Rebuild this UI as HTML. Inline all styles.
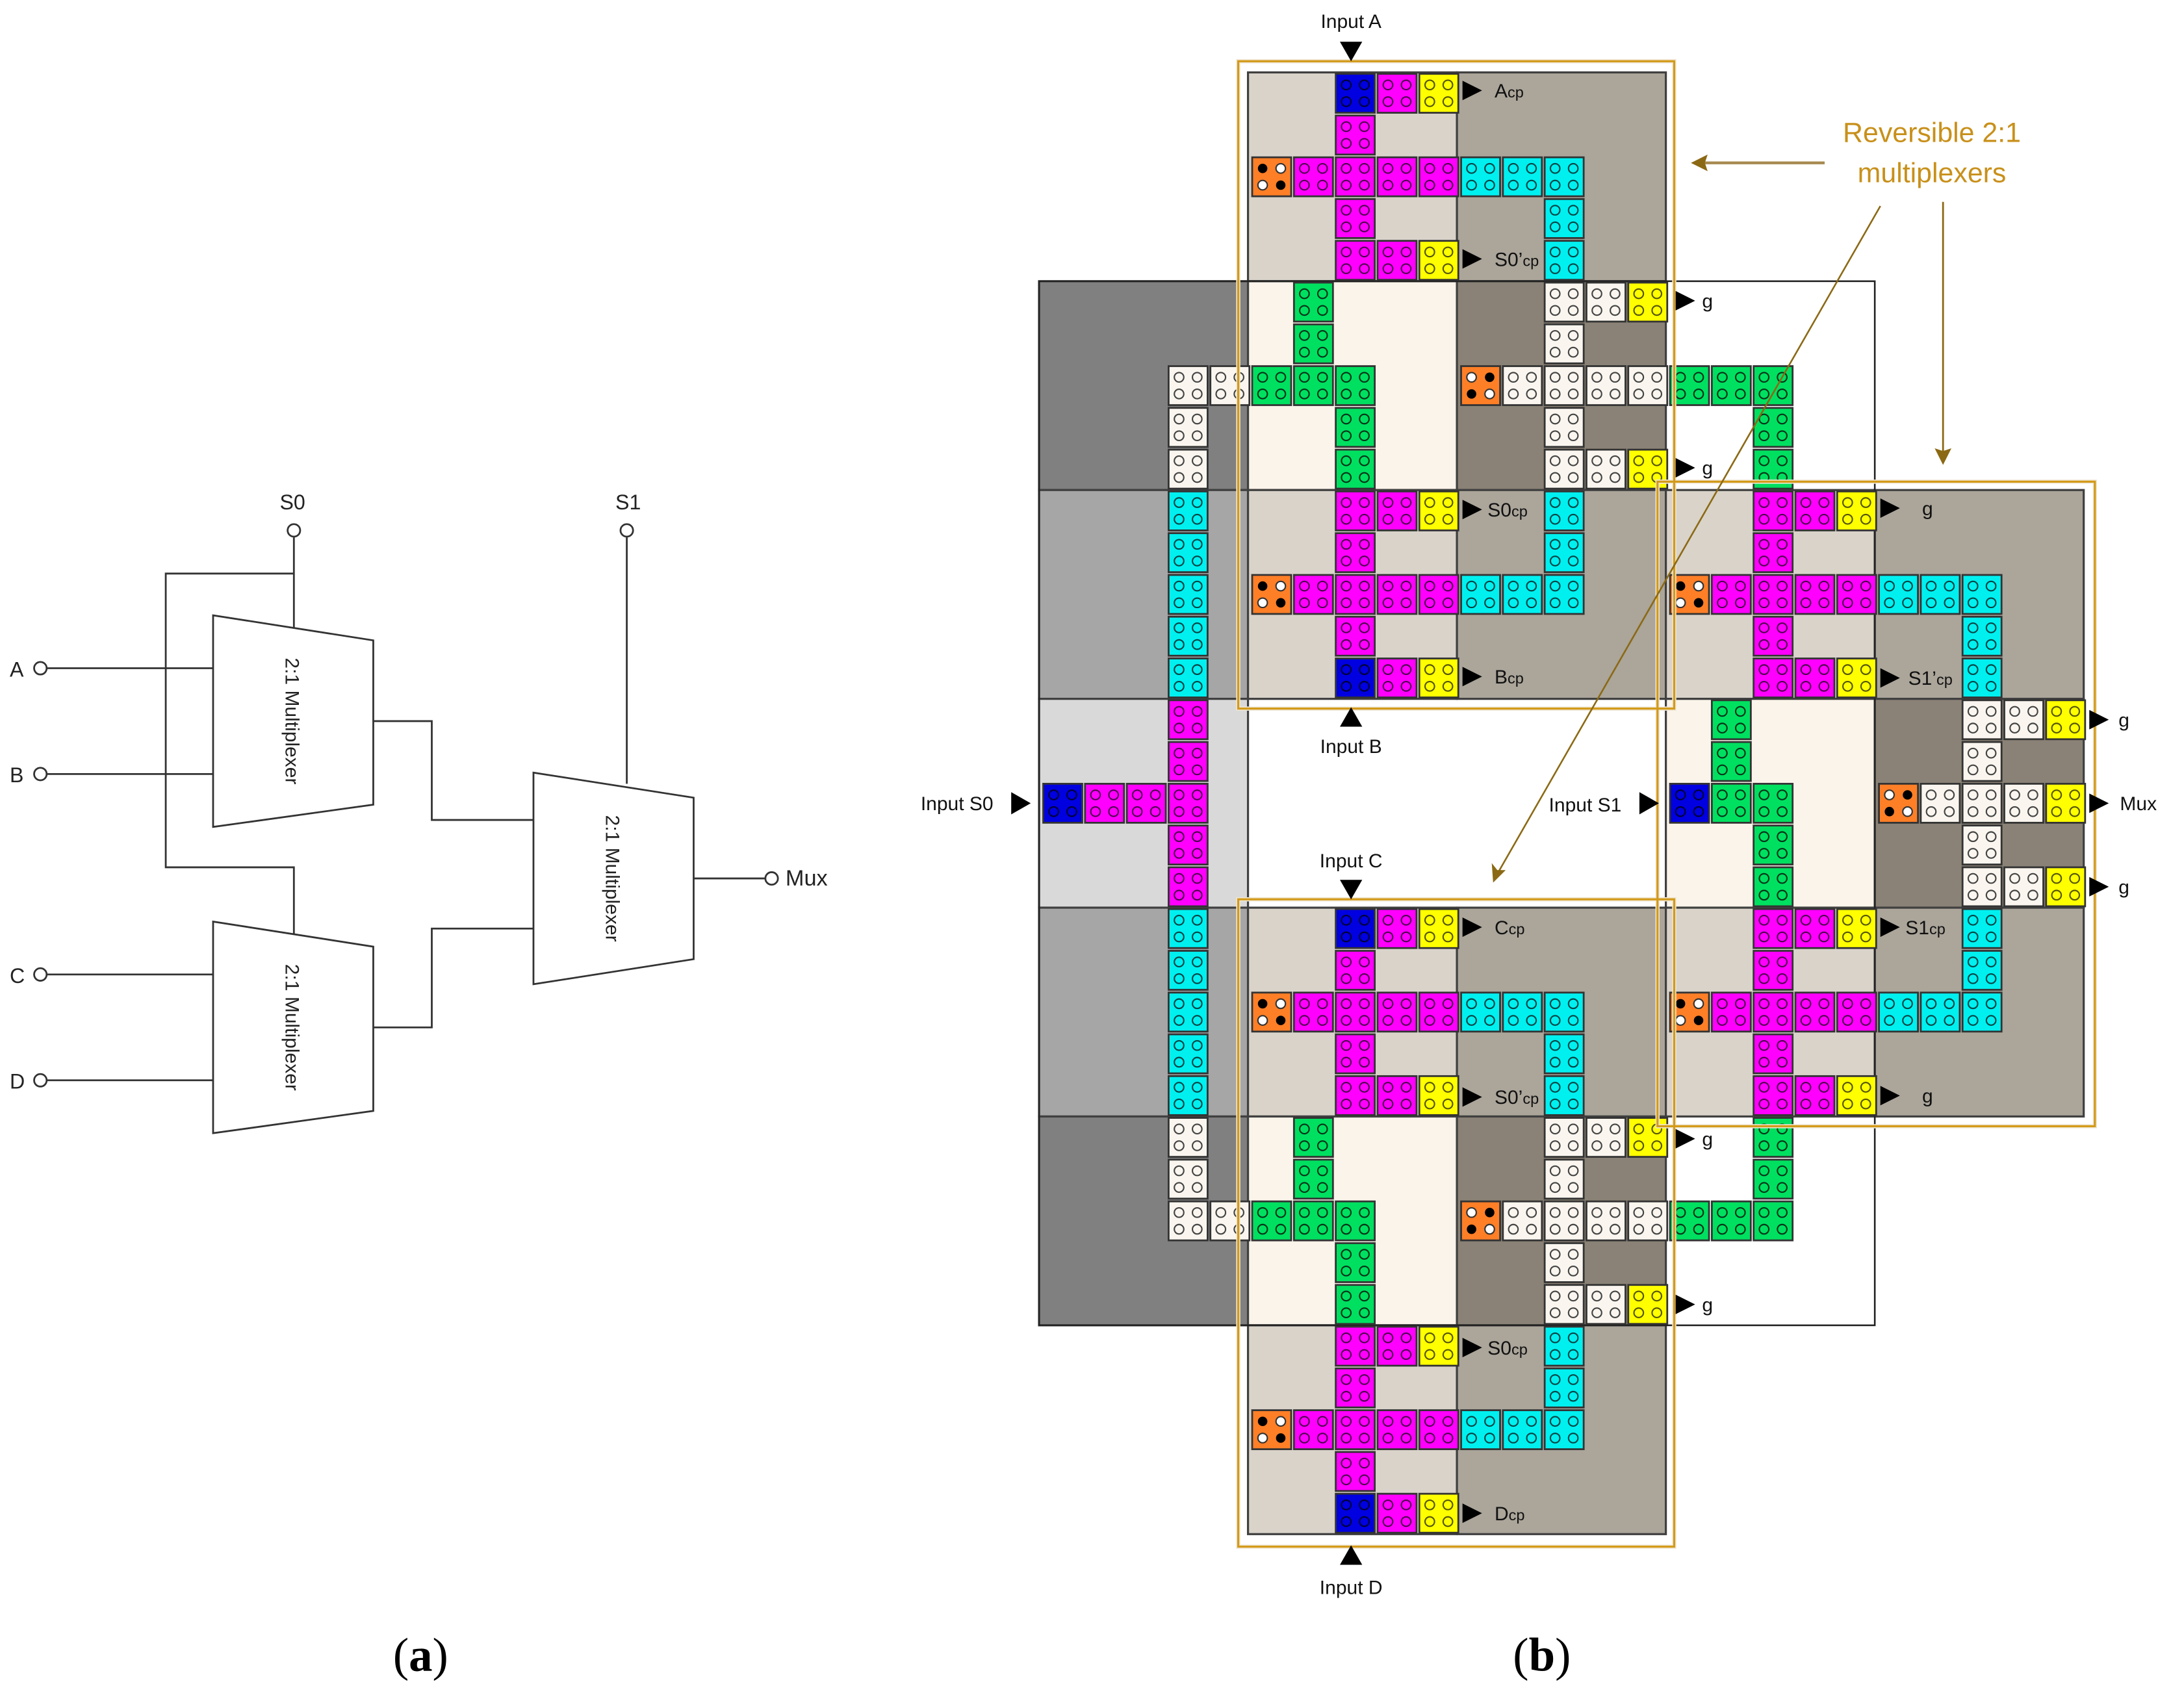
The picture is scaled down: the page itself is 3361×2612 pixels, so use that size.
<!DOCTYPE html>
<html><head><meta charset="utf-8"><style>
html,body{margin:0;padding:0;background:#fff;}
svg{display:block;}
text{font-family:"Liberation Sans",sans-serif;}
</style></head><body>
<svg xmlns="http://www.w3.org/2000/svg" xmlns:xlink="http://www.w3.org/1999/xlink" width="3361" height="2612" viewBox="0 0 1568 1219" preserveAspectRatio="none">
<defs>
<g id="holes"><circle cx="8.5" cy="9" r="3.4"/><circle cx="21.5" cy="9" r="3.4"/><circle cx="8.5" cy="21" r="3.4"/><circle cx="21.5" cy="21" r="3.4"/></g>
<g id="M"><rect x="1" y="1" width="28" height="28" fill="#ff00ff" stroke="#333" stroke-width="1.3"/><use xlink:href="#holes" fill="none" stroke="#500050" stroke-width="1"/></g>
<g id="Y"><rect x="1" y="1" width="28" height="28" fill="#ffff00" stroke="#333" stroke-width="1.3"/><use xlink:href="#holes" fill="none" stroke="#555500" stroke-width="1"/></g>
<g id="C"><rect x="1" y="1" width="28" height="28" fill="#00f0f0" stroke="#333" stroke-width="1.3"/><use xlink:href="#holes" fill="none" stroke="#004444" stroke-width="1"/></g>
<g id="B"><rect x="1" y="1" width="28" height="28" fill="#0000e0" stroke="#333" stroke-width="1.3"/><use xlink:href="#holes" fill="none" stroke="#000033" stroke-width="1"/></g>
<g id="G"><rect x="1" y="1" width="28" height="28" fill="#00e060" stroke="#333" stroke-width="1.3"/><use xlink:href="#holes" fill="none" stroke="#003318" stroke-width="1"/></g>
<g id="W"><rect x="1" y="1" width="28" height="28" fill="#faf6ef" stroke="#333" stroke-width="1.3"/><use xlink:href="#holes" fill="none" stroke="#444" stroke-width="1"/></g>
<g id="OA"><rect x="1" y="1" width="28" height="28" fill="#ff7f27" stroke="#333" stroke-width="1.3"/><circle cx="8.5" cy="9" r="3.4" fill="#000"/><circle cx="21.5" cy="9" r="3.4" fill="#fff" stroke="#333"/><circle cx="8.5" cy="21" r="3.4" fill="#fff" stroke="#333"/><circle cx="21.5" cy="21" r="3.4" fill="#000"/></g>
<g id="OB"><rect x="1" y="1" width="28" height="28" fill="#ff7f27" stroke="#333" stroke-width="1.3"/><circle cx="8.5" cy="9" r="3.4" fill="#fff" stroke="#333"/><circle cx="21.5" cy="9" r="3.4" fill="#000"/><circle cx="8.5" cy="21" r="3.4" fill="#000"/><circle cx="21.5" cy="21" r="3.4" fill="#fff" stroke="#333"/></g>
<path id="tr" d="M0,-7 L14,0 L0,7 Z" fill="#000"/>
</defs>

<g stroke="#333" stroke-width="1.3" fill="none">
<polygon points="153,442 268,460 268,578 153,594" fill="#fff"/>
<polygon points="153,662 268,680 268,798 153,814" fill="#fff"/>
<polygon points="383,555 498,573 498,689 383,707" fill="#fff"/>
<polyline points="211,386 211,451"/>
<polyline points="211,412 119,412 119,623 211,623 211,671"/>
<line x1="34" y1="480" x2="153" y2="480"/>
<line x1="34" y1="556" x2="153" y2="556"/>
<line x1="34" y1="700" x2="153" y2="700"/>
<line x1="34" y1="776" x2="153" y2="776"/>
<polyline points="268,518 310,518 310,589 383,589"/>
<polyline points="268,738 310,738 310,667 383,667"/>
<line x1="450" y1="386" x2="450" y2="563"/>
<line x1="498" y1="631" x2="549" y2="631"/>
<circle cx="211" cy="381" r="4.5" fill="#fff"/>
<circle cx="450" cy="381" r="4.5" fill="#fff"/>
<circle cx="29" cy="480" r="4.5" fill="#fff"/>
<circle cx="29" cy="556" r="4.5" fill="#fff"/>
<circle cx="29" cy="700" r="4.5" fill="#fff"/>
<circle cx="29" cy="776" r="4.5" fill="#fff"/>
<circle cx="554" cy="631" r="4.5" fill="#fff"/>
</g>
<g font-size="15" fill="#222">
<text x="210" y="366" text-anchor="middle">S0</text>
<text x="451" y="366" text-anchor="middle">S1</text>
<text x="7" y="486">A</text>
<text x="7" y="562">B</text>
<text x="7" y="706">C</text>
<text x="7" y="782">D</text>
<text x="564" y="636" font-size="16">Mux</text>
<text transform="translate(205,518) rotate(90)" text-anchor="middle" font-size="14">2:1 Multiplexer</text>
<text transform="translate(205,738) rotate(90)" text-anchor="middle" font-size="14">2:1 Multiplexer</text>
<text transform="translate(435,631) rotate(90)" text-anchor="middle" font-size="14">2:1 Multiplexer</text>
</g>
<text x="302" y="1200" style="font-family:'Liberation Serif',serif" font-size="34" text-anchor="middle" fill="#000">(<tspan font-weight="bold">a</tspan>)</text>
<text x="1107" y="1200" style="font-family:'Liberation Serif',serif" font-size="34" text-anchor="middle" fill="#000">(<tspan font-weight="bold">b</tspan>)</text>

<g stroke="#404040" stroke-width="1.5">
<rect x="896" y="52" width="150" height="150" fill="#d9d3ca"/>
<rect x="1046" y="52" width="150" height="150" fill="#aba59a"/>
<rect x="746" y="202" width="150" height="150" fill="#808080"/>
<rect x="896" y="202" width="150" height="150" fill="#faf4ea"/>
<rect x="1046" y="202" width="150" height="150" fill="#8a8276"/>
<rect x="746" y="352" width="150" height="150" fill="#a6a6a6"/>
<rect x="896" y="352" width="150" height="150" fill="#d9d3ca"/>
<rect x="1046" y="352" width="150" height="150" fill="#aba59a"/>
<rect x="1196" y="352" width="150" height="150" fill="#d9d3ca"/>
<rect x="1346" y="352" width="150" height="150" fill="#aba59a"/>
<rect x="746" y="502" width="150" height="150" fill="#d9d9d9"/>
<rect x="1196" y="502" width="150" height="150" fill="#faf4ea"/>
<rect x="1346" y="502" width="150" height="150" fill="#8a8276"/>
<rect x="746" y="652" width="150" height="150" fill="#a6a6a6"/>
<rect x="896" y="652" width="150" height="150" fill="#d9d3ca"/>
<rect x="1046" y="652" width="150" height="150" fill="#aba59a"/>
<rect x="1196" y="652" width="150" height="150" fill="#d9d3ca"/>
<rect x="1346" y="652" width="150" height="150" fill="#aba59a"/>
<rect x="746" y="802" width="150" height="150" fill="#808080"/>
<rect x="896" y="802" width="150" height="150" fill="#faf4ea"/>
<rect x="1046" y="802" width="150" height="150" fill="#8a8276"/>
<rect x="896" y="952" width="150" height="150" fill="#d9d3ca"/>
<rect x="1046" y="952" width="150" height="150" fill="#aba59a"/>
</g>
<rect x="746" y="202" width="600" height="750" fill="none" stroke="#222" stroke-width="1.2"/>

<g>
<use xlink:href="#B" x="958" y="52"/><use xlink:href="#M" x="988" y="52"/><use xlink:href="#Y" x="1018" y="52"/>
<use xlink:href="#M" x="958" y="82"/>
<use xlink:href="#OA" x="898" y="112"/><use xlink:href="#M" x="928" y="112"/><use xlink:href="#M" x="958" y="112"/><use xlink:href="#M" x="988" y="112"/><use xlink:href="#M" x="1018" y="112"/><use xlink:href="#C" x="1048" y="112"/><use xlink:href="#C" x="1078" y="112"/><use xlink:href="#C" x="1108" y="112"/>
<use xlink:href="#M" x="958" y="142"/><use xlink:href="#C" x="1108" y="142"/>
<use xlink:href="#M" x="958" y="172"/><use xlink:href="#M" x="988" y="172"/><use xlink:href="#Y" x="1018" y="172"/><use xlink:href="#C" x="1108" y="172"/>
<use xlink:href="#G" x="928" y="202"/><use xlink:href="#W" x="1108" y="202"/><use xlink:href="#W" x="1138" y="202"/><use xlink:href="#Y" x="1168" y="202"/>
<use xlink:href="#G" x="928" y="232"/><use xlink:href="#W" x="1108" y="232"/>
<use xlink:href="#W" x="838" y="262"/><use xlink:href="#W" x="868" y="262"/><use xlink:href="#G" x="898" y="262"/><use xlink:href="#G" x="928" y="262"/><use xlink:href="#G" x="958" y="262"/><use xlink:href="#OB" x="1048" y="262"/><use xlink:href="#W" x="1078" y="262"/><use xlink:href="#W" x="1108" y="262"/><use xlink:href="#W" x="1138" y="262"/><use xlink:href="#W" x="1168" y="262"/><use xlink:href="#G" x="1198" y="262"/><use xlink:href="#G" x="1228" y="262"/><use xlink:href="#G" x="1258" y="262"/>
<use xlink:href="#W" x="838" y="292"/><use xlink:href="#G" x="958" y="292"/><use xlink:href="#W" x="1108" y="292"/><use xlink:href="#G" x="1258" y="292"/>
<use xlink:href="#W" x="838" y="322"/><use xlink:href="#G" x="958" y="322"/><use xlink:href="#W" x="1108" y="322"/><use xlink:href="#W" x="1138" y="322"/><use xlink:href="#Y" x="1168" y="322"/><use xlink:href="#G" x="1258" y="322"/>
<use xlink:href="#C" x="838" y="352"/><use xlink:href="#M" x="958" y="352"/><use xlink:href="#M" x="988" y="352"/><use xlink:href="#Y" x="1018" y="352"/><use xlink:href="#C" x="1108" y="352"/>
<use xlink:href="#C" x="838" y="382"/><use xlink:href="#M" x="958" y="382"/><use xlink:href="#C" x="1108" y="382"/>
<use xlink:href="#C" x="838" y="412"/><use xlink:href="#OA" x="898" y="412"/><use xlink:href="#M" x="928" y="412"/><use xlink:href="#M" x="958" y="412"/><use xlink:href="#M" x="988" y="412"/><use xlink:href="#M" x="1018" y="412"/><use xlink:href="#C" x="1048" y="412"/><use xlink:href="#C" x="1078" y="412"/><use xlink:href="#C" x="1108" y="412"/>
<use xlink:href="#C" x="838" y="442"/><use xlink:href="#M" x="958" y="442"/>
<use xlink:href="#C" x="838" y="472"/><use xlink:href="#B" x="958" y="472"/><use xlink:href="#M" x="988" y="472"/><use xlink:href="#Y" x="1018" y="472"/>
<use xlink:href="#M" x="1258" y="352"/><use xlink:href="#M" x="1288" y="352"/><use xlink:href="#Y" x="1318" y="352"/>
<use xlink:href="#M" x="1258" y="382"/>
<use xlink:href="#OA" x="1198" y="412"/><use xlink:href="#M" x="1228" y="412"/><use xlink:href="#M" x="1258" y="412"/><use xlink:href="#M" x="1288" y="412"/><use xlink:href="#M" x="1318" y="412"/><use xlink:href="#C" x="1348" y="412"/><use xlink:href="#C" x="1378" y="412"/><use xlink:href="#C" x="1408" y="412"/>
<use xlink:href="#M" x="1258" y="442"/><use xlink:href="#C" x="1408" y="442"/>
<use xlink:href="#M" x="1258" y="472"/><use xlink:href="#M" x="1288" y="472"/><use xlink:href="#Y" x="1318" y="472"/><use xlink:href="#C" x="1408" y="472"/>
<use xlink:href="#M" x="838" y="502"/><use xlink:href="#M" x="838" y="532"/><use xlink:href="#M" x="838" y="562"/><use xlink:href="#M" x="838" y="592"/><use xlink:href="#M" x="838" y="622"/>
<use xlink:href="#B" x="748" y="562"/><use xlink:href="#M" x="778" y="562"/><use xlink:href="#M" x="808" y="562"/>
<use xlink:href="#G" x="1228" y="502"/><use xlink:href="#G" x="1228" y="532"/><use xlink:href="#B" x="1198" y="562"/><use xlink:href="#G" x="1228" y="562"/><use xlink:href="#G" x="1258" y="562"/><use xlink:href="#G" x="1258" y="592"/><use xlink:href="#G" x="1258" y="622"/>
<use xlink:href="#W" x="1408" y="502"/><use xlink:href="#W" x="1438" y="502"/><use xlink:href="#Y" x="1468" y="502"/>
<use xlink:href="#W" x="1408" y="532"/>
<use xlink:href="#OB" x="1348" y="562"/><use xlink:href="#W" x="1378" y="562"/><use xlink:href="#W" x="1408" y="562"/><use xlink:href="#W" x="1438" y="562"/><use xlink:href="#Y" x="1468" y="562"/>
<use xlink:href="#W" x="1408" y="592"/>
<use xlink:href="#W" x="1408" y="622"/><use xlink:href="#W" x="1438" y="622"/><use xlink:href="#Y" x="1468" y="622"/>
<use xlink:href="#C" x="838" y="652"/><use xlink:href="#C" x="838" y="682"/><use xlink:href="#C" x="838" y="712"/><use xlink:href="#C" x="838" y="742"/><use xlink:href="#C" x="838" y="772"/>
<use xlink:href="#B" x="958" y="652"/><use xlink:href="#M" x="988" y="652"/><use xlink:href="#Y" x="1018" y="652"/>
<use xlink:href="#M" x="958" y="682"/>
<use xlink:href="#OA" x="898" y="712"/><use xlink:href="#M" x="928" y="712"/><use xlink:href="#M" x="958" y="712"/><use xlink:href="#M" x="988" y="712"/><use xlink:href="#M" x="1018" y="712"/><use xlink:href="#C" x="1048" y="712"/><use xlink:href="#C" x="1078" y="712"/><use xlink:href="#C" x="1108" y="712"/>
<use xlink:href="#M" x="958" y="742"/><use xlink:href="#C" x="1108" y="742"/>
<use xlink:href="#M" x="958" y="772"/><use xlink:href="#M" x="988" y="772"/><use xlink:href="#Y" x="1018" y="772"/><use xlink:href="#C" x="1108" y="772"/>
<use xlink:href="#M" x="1258" y="652"/><use xlink:href="#M" x="1288" y="652"/><use xlink:href="#Y" x="1318" y="652"/><use xlink:href="#C" x="1408" y="652"/>
<use xlink:href="#M" x="1258" y="682"/><use xlink:href="#C" x="1408" y="682"/>
<use xlink:href="#OA" x="1198" y="712"/><use xlink:href="#M" x="1228" y="712"/><use xlink:href="#M" x="1258" y="712"/><use xlink:href="#M" x="1288" y="712"/><use xlink:href="#M" x="1318" y="712"/><use xlink:href="#C" x="1348" y="712"/><use xlink:href="#C" x="1378" y="712"/><use xlink:href="#C" x="1408" y="712"/>
<use xlink:href="#M" x="1258" y="742"/>
<use xlink:href="#M" x="1258" y="772"/><use xlink:href="#M" x="1288" y="772"/><use xlink:href="#Y" x="1318" y="772"/>
<use xlink:href="#W" x="838" y="802"/><use xlink:href="#G" x="928" y="802"/><use xlink:href="#W" x="1108" y="802"/><use xlink:href="#W" x="1138" y="802"/><use xlink:href="#Y" x="1168" y="802"/><use xlink:href="#G" x="1258" y="802"/>
<use xlink:href="#W" x="838" y="832"/><use xlink:href="#G" x="928" y="832"/><use xlink:href="#W" x="1108" y="832"/><use xlink:href="#G" x="1258" y="832"/>
<use xlink:href="#W" x="838" y="862"/><use xlink:href="#W" x="868" y="862"/><use xlink:href="#G" x="898" y="862"/><use xlink:href="#G" x="928" y="862"/><use xlink:href="#G" x="958" y="862"/><use xlink:href="#OB" x="1048" y="862"/><use xlink:href="#W" x="1078" y="862"/><use xlink:href="#W" x="1108" y="862"/><use xlink:href="#W" x="1138" y="862"/><use xlink:href="#W" x="1168" y="862"/><use xlink:href="#G" x="1198" y="862"/><use xlink:href="#G" x="1228" y="862"/><use xlink:href="#G" x="1258" y="862"/>
<use xlink:href="#G" x="958" y="892"/><use xlink:href="#W" x="1108" y="892"/>
<use xlink:href="#G" x="958" y="922"/><use xlink:href="#W" x="1108" y="922"/><use xlink:href="#W" x="1138" y="922"/><use xlink:href="#Y" x="1168" y="922"/>
<use xlink:href="#M" x="958" y="952"/><use xlink:href="#M" x="988" y="952"/><use xlink:href="#Y" x="1018" y="952"/><use xlink:href="#C" x="1108" y="952"/>
<use xlink:href="#M" x="958" y="982"/><use xlink:href="#C" x="1108" y="982"/>
<use xlink:href="#OA" x="898" y="1012"/><use xlink:href="#M" x="928" y="1012"/><use xlink:href="#M" x="958" y="1012"/><use xlink:href="#M" x="988" y="1012"/><use xlink:href="#M" x="1018" y="1012"/><use xlink:href="#C" x="1048" y="1012"/><use xlink:href="#C" x="1078" y="1012"/><use xlink:href="#C" x="1108" y="1012"/>
<use xlink:href="#M" x="958" y="1042"/>
<use xlink:href="#B" x="958" y="1072"/><use xlink:href="#M" x="988" y="1072"/><use xlink:href="#Y" x="1018" y="1072"/>
</g>

<g fill="none">
<rect x="889" y="44" width="313" height="465" stroke="#efe6d4" stroke-width="3"/>
<rect x="889" y="646" width="313" height="465" stroke="#efe6d4" stroke-width="3"/>
<rect x="1190" y="346" width="314" height="463" stroke="#efe6d4" stroke-width="3"/>
<rect x="889" y="44" width="313" height="465" stroke="#d39a1a" stroke-width="1.5"/>
<rect x="889" y="646" width="313" height="465" stroke="#d39a1a" stroke-width="1.5"/>
<rect x="1190" y="346" width="314" height="463" stroke="#d39a1a" stroke-width="1.5"/>
</g>

<g stroke="#8b6914" fill="#8b6914">
<line x1="1310" y1="117" x2="1222" y2="117" stroke-width="2" stroke="#a88a50"/>
<path d="M1214,117 L1226,111 L1224,117 L1226,123 Z" stroke="none"/>
<line x1="1395" y1="145" x2="1395" y2="326" stroke-width="1.3"/>
<path d="M1395,334 L1389,322 L1395,324 L1401,322 Z" stroke="none"/>
<line x1="1350" y1="148" x2="1076" y2="626" stroke-width="1.2"/>
<path d="M1072,634 L1071,620 L1075,625 L1081,625 Z" stroke="none"/>
</g>
<g fill="#c8901a" font-size="20" text-anchor="middle">
<text x="1387" y="102">Reversible 2:1</text>
<text x="1387" y="131">multiplexers</text>
</g>

<g fill="#000">
<path d="M962,30 L978,30 L970,44 Z"/>
<path d="M962,522 L978,522 L970,508 Z"/>
<path d="M962,632 L978,632 L970,646 Z"/>
<path d="M962,1124 L978,1124 L970,1110 Z"/>
<path d="M726,569 L726,585 L740,577 Z"/>
<path d="M1177,569 L1177,585 L1191,577 Z"/>
</g>
<g font-size="14" fill="#111">
<text x="970" y="20" text-anchor="middle">Input A</text>
<text x="970" y="541" text-anchor="middle">Input B</text>
<text x="970" y="623" text-anchor="middle">Input C</text>
<text x="970" y="1145" text-anchor="middle">Input D</text>
<text x="661" y="582">Input S0</text>
<text x="1112" y="583">Input S1</text>
</g>

<g>
<use xlink:href="#tr" x="1050" y="65"/><use xlink:href="#tr" x="1050" y="186"/>
<use xlink:href="#tr" x="1050" y="366"/><use xlink:href="#tr" x="1050" y="486"/>
<use xlink:href="#tr" x="1050" y="666"/><use xlink:href="#tr" x="1050" y="788"/>
<use xlink:href="#tr" x="1050" y="968"/><use xlink:href="#tr" x="1050" y="1087"/>
<use xlink:href="#tr" x="1203" y="216"/><use xlink:href="#tr" x="1203" y="336"/>
<use xlink:href="#tr" x="1203" y="818"/><use xlink:href="#tr" x="1203" y="937"/>
<use xlink:href="#tr" x="1350" y="365"/><use xlink:href="#tr" x="1350" y="487"/>
<use xlink:href="#tr" x="1350" y="666"/><use xlink:href="#tr" x="1350" y="787"/>
<use xlink:href="#tr" x="1500" y="517"/><use xlink:href="#tr" x="1500" y="577"/><use xlink:href="#tr" x="1500" y="637"/>
</g>
<g font-size="14" fill="#111">
<text x="1073" y="70">A<tspan font-size="11">cp</tspan></text>
<text x="1073" y="191">S0’<tspan font-size="11">cp</tspan></text>
<text x="1068" y="371">S0<tspan font-size="11">cp</tspan></text>
<text x="1073" y="491">B<tspan font-size="11">cp</tspan></text>
<text x="1073" y="671">C<tspan font-size="11">cp</tspan></text>
<text x="1073" y="793">S0’<tspan font-size="11">cp</tspan></text>
<text x="1068" y="973">S0<tspan font-size="11">cp</tspan></text>
<text x="1073" y="1092">D<tspan font-size="11">cp</tspan></text>
<text x="1222" y="221">g</text><text x="1222" y="341">g</text>
<text x="1222" y="823">g</text><text x="1222" y="942">g</text>
<text x="1380" y="370">g</text>
<text x="1370" y="492">S1’<tspan font-size="11">cp</tspan></text>
<text x="1368" y="671">S1<tspan font-size="11">cp</tspan></text>
<text x="1380" y="792">g</text>
<text x="1521" y="522">g</text>
<text x="1522" y="582">Mux</text>
<text x="1521" y="642">g</text>
</g>
</svg>
</body></html>
